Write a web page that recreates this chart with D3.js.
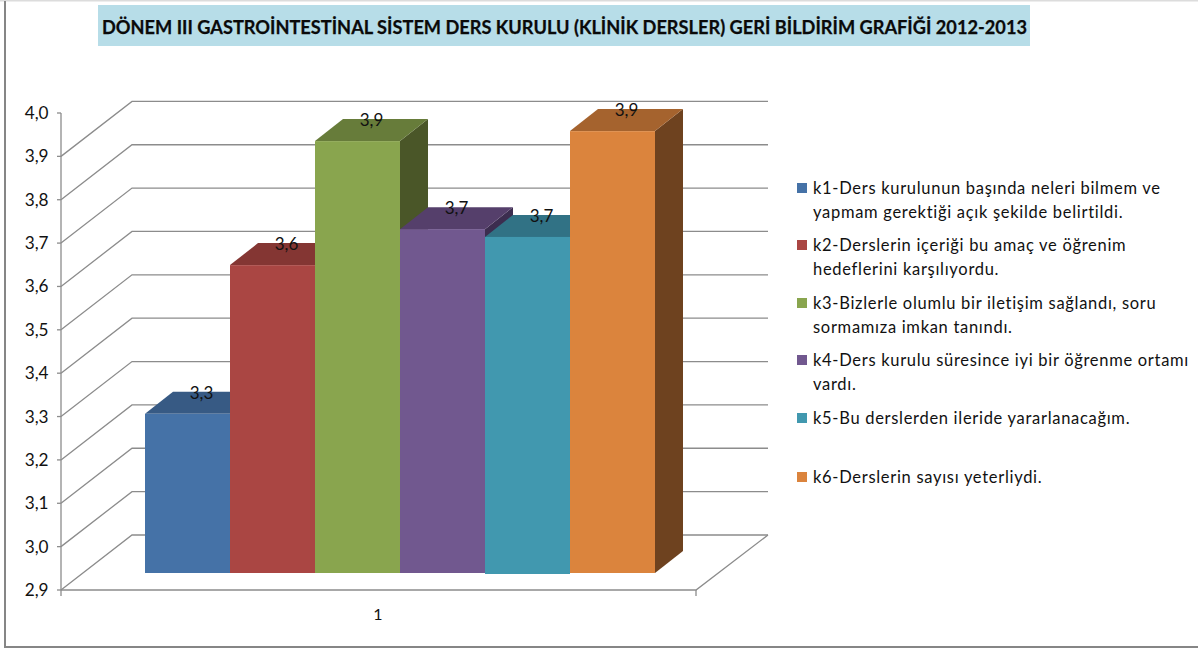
<!DOCTYPE html>
<html><head><meta charset="utf-8">
<script src="https://cdn.jsdelivr.net/npm/d3@7"></script>
<style>html,body{margin:0;padding:0;background:#fff}svg{display:block}</style>
</head><body><svg id="c" width="1198" height="649"></svg>
<script>
const chartTitle = "DÖNEM III GASTROİNTESTİNAL SİSTEM DERS KURULU (KLİNİK DERSLER) GERİ BİLDİRİM GRAFİĞİ 2012-2013";
const seriesKeys = ["k1","k2","k3","k4","k5","k6"];
const seriesValues = [3.267,3.61,3.896,3.693,3.675,3.919];
const legendLines = [
 ["k1-Ders kurulunun başında neleri bilmem ve","yapmam gerektiği açık şekilde belirtildi."],
 ["k2-Derslerin içeriği bu amaç ve öğrenim","hedeflerini karşılıyordu."],
 ["k3-Bizlerle olumlu bir iletişim sağlandı, soru","sormamıza imkan tanındı."],
 ["k4-Ders kurulu süresince iyi bir öğrenme ortamı","vardı."],
 ["k5-Bu derslerden ileride yararlanacağım."],
 ["k6-Derslerin sayısı yeterliydi."]];
const legendRowY = [188,245,303,360,418,477];
const frontColors = ["#4572A7","#AA4643","#89A54E","#71588F","#4198AF","#DB843D"];
const topColors   = ["#375A84","#843633","#677C3A","#553F6B","#317285","#A5632E"];
const sideColors  = ["#24405F","#5C2523","#4A5628","#3C2D4F","#214E5B","#6E421F"];
const yTicks = [2.9,3.0,3.1,3.2,3.3,3.4,3.5,3.6,3.7,3.8,3.9,4.0];
const categories = ["1"];

const F = "Lato, sans-serif", grid = "#8c8c8c";
const svg = d3.select("#c");
const y = d3.scaleLinear().domain([2.9,4.0]).range([590,113]);
const x = d3.scaleBand().domain(seriesKeys).range([145,655]);
const fmt = v => d3.format(".1f")(v).replace(".",",");

// frame
svg.append("rect").attr("x",0).attr("y",0).attr("width",1198).attr("height",1.5).attr("fill","#dcdcdc");
svg.append("path").attr("d","M5,1V647H1198").attr("fill","none").attr("stroke","#868686").attr("stroke-width",2);

// title
svg.append("rect").attr("x",98).attr("y",5).attr("width",932).attr("height",41).attr("fill","#B7DDE8");
svg.append("text").attr("x",564.5).attr("y",33.5).attr("text-anchor","middle")
  .attr("font-family",F).attr("font-weight",700).attr("font-size",18.6).attr("fill","#0a0a0a")
  .attr("stroke","#0a0a0a").attr("stroke-width",0.25)
  .attr("textLength",925).attr("lengthAdjust","spacingAndGlyphs").text(chartTitle);

// walls, floor
const depthX = 71, depthY = -55;
const g = svg.append("g").attr("fill","none").attr("stroke",grid).attr("stroke-width",1.3);
yTicks.filter(t=>t<4).forEach(t=>{
  const p = y(t);
  g.append("path").attr("d",`M61,${p}L${61+depthX},${p+depthY}H768`);
});
g.append("path").attr("d",`M768,${y(2.9)+depthY}L696,${y(2.9)}H61`);
g.append("path").attr("d",`M61,${y(4.0)}V596`);
g.append("path").attr("d","M696,590V596");
yTicks.forEach(t=>g.append("path").attr("d",`M57,${y(t)}H61`));

// tick labels
svg.append("g").selectAll("text").data(yTicks).join("text")
  .attr("x",48.5).attr("y",d=>y(d)+6).attr("text-anchor","end")
  .attr("font-family",F).attr("font-size",17.2).attr("fill","#111").text(fmt);
svg.append("text").attr("x",378).attr("y",620).attr("text-anchor","middle")
  .attr("font-family",F).attr("font-size",16).attr("fill","#111").text(categories[0]);

// bars
const dx = 28, dy = -22, baseShift = -17;
const bars = svg.append("g").selectAll("g").data(seriesValues).join("g");
bars.each(function(v,i){
  const s = d3.select(this), k = seriesKeys[i];
  const l = x(k), r = l + x.bandwidth(), t = y(v)+baseShift, b = y(2.9)+baseShift;
  s.append("path").attr("fill",sideColors[i]).attr("d",`M${r},${t}L${r+dx},${t+dy}V${b+dy}L${r},${b}Z`);
  s.append("path").attr("fill",topColors[i]).attr("d",`M${l},${t}L${l+dx},${t+dy}H${r+dx}L${r},${t}Z`);
  s.append("rect").attr("fill",frontColors[i]).attr("x",l).attr("y",t).attr("width",x.bandwidth()).attr("height",b-t+(k==="k5"?1:0));
});
// data labels
svg.append("g").selectAll("text").data(seriesValues).join("text")
  .attr("x",(d,i)=>x(seriesKeys[i])+x.bandwidth()/2+14).attr("y",d=>y(d)+baseShift-15)
  .attr("text-anchor","middle").attr("font-family",F).attr("font-size",17).attr("fill","#111").text(fmt);

// legend
const lg = svg.append("g").selectAll("g").data(legendLines).join("g");
lg.append("rect").attr("x",797).attr("y",(d,i)=>legendRowY[i]-5).attr("width",10).attr("height",10)
  .attr("fill",(d,i)=>frontColors[i]);
lg.each(function(lines,i){
  d3.select(this).selectAll("text").data(lines).join("text")
    .attr("x",813).attr("y",(d,j)=>legendRowY[i]+6+j*24)
    .attr("font-family",F).attr("font-size",16.5).attr("letter-spacing",0.7).attr("fill","#111").text(d=>d);
});
</script></body></html>
